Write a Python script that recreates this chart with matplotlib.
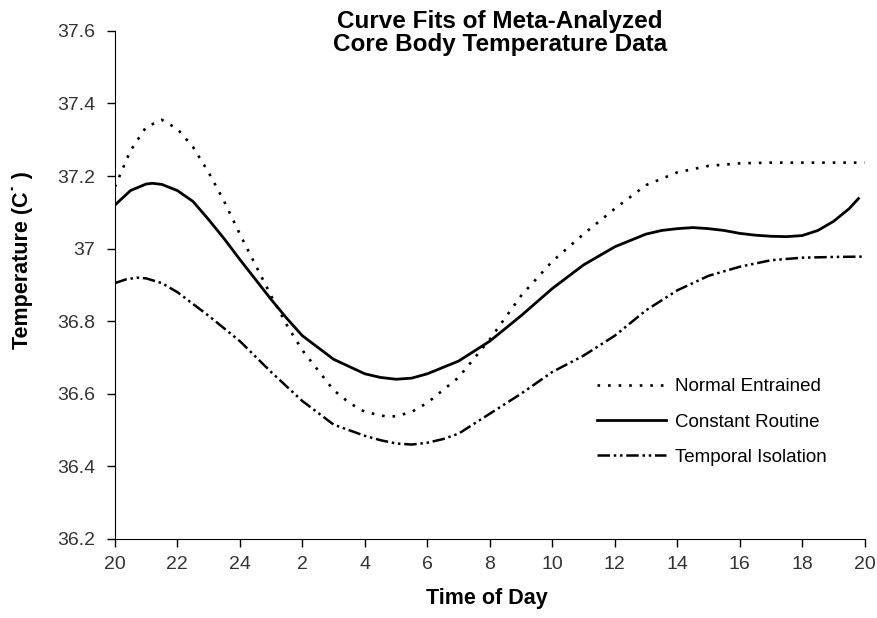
import matplotlib
matplotlib.use("Agg")
import matplotlib.pyplot as plt

plt.rcParams['font.family'] = ['Liberation Sans', 'DejaVu Sans']

# hours since 20:00, tick every 2 h
etiquetas = ['20', '22', '24', '2', '4', '6', '8', '10', '12', '14', '16', '18', '20']

# Normal Entrained (puntos)
t_normal = [0, 0.25, 0.5, 1, 1.5, 2, 2.5, 3, 3.5, 4, 4.5, 5, 5.5, 6, 7, 7.5, 8, 8.7, 9, 9.5, 10, 11, 12, 13, 14,
            15, 16, 17, 18, 19, 20, 21, 22, 23, 24]
normal = [37.17, 37.22, 37.27, 37.335, 37.355, 37.33, 37.28, 37.21, 37.13, 37.04, 36.955, 36.87, 36.79, 36.72,
          36.61, 36.575, 36.55, 36.537, 36.538, 36.55, 36.575, 36.645, 36.75, 36.87, 36.965, 37.04, 37.11, 37.175,
          37.21, 37.228, 37.235, 37.237, 37.237, 37.237, 37.237]

# Constant Routine (linea solida)
t_constante = [0, 0.5, 1, 1.2, 1.5, 2, 2.5, 3, 3.5, 4, 4.5, 5, 5.5, 6, 7, 8, 8.5, 9, 9.5, 10, 11, 12, 13, 14, 15,
               16, 17, 17.5, 18, 18.5, 19, 19.5, 20, 20.5, 21, 21.5, 22, 22.5, 23, 23.5, 23.8]
constante = [37.12, 37.16, 37.178, 37.18, 37.177, 37.16, 37.13, 37.08, 37.027, 36.97, 36.915, 36.86, 36.808,
             36.76, 36.695, 36.655, 36.645, 36.64, 36.643, 36.655, 36.69, 36.745, 36.815, 36.89, 36.955, 37.005,
             37.04, 37.05, 37.055, 37.058, 37.055, 37.05, 37.042, 37.037, 37.034, 37.033, 37.036, 37.05, 37.075,
             37.11, 37.138]

# Temporal Isolation (raya-punto)
t_aislamiento = [0, 0.35, 0.7, 1, 1.5, 2, 3, 4, 5, 6, 7, 8, 8.5, 9, 9.5, 10, 10.5, 11, 12, 13, 14, 15, 16, 17,
                 18, 19, 20, 21, 22, 23, 24]
aislamiento = [36.905, 36.915, 36.92, 36.918, 36.905, 36.88, 36.815, 36.745, 36.66, 36.58, 36.515, 36.484,
               36.472, 36.463, 36.46, 36.465, 36.475, 36.49, 36.545, 36.6, 36.66, 36.705, 36.76, 36.83, 36.885,
               36.925, 36.95, 36.968, 36.975, 36.977, 36.978]

fig = plt.figure(figsize=(8.77, 6.18), dpi=100)
ax = fig.add_axes([0.131, 0.128, 0.855, 0.822])

ax.plot(t_normal, normal, color='black', lw=1.9, linestyle=(0, (1, 3.0)), label='Normal Entrained')
ax.plot(t_constante, constante, color='black', lw=2.0, solid_joinstyle='round', label='Constant Routine')
ax.plot(t_aislamiento, aislamiento, color='black', lw=1.8, linestyle=(0, (5, 1.5, 1, 1.5, 1, 1.5)),
        label='Temporal Isolation')

ax.set_xlim(0, 24)
ax.set_ylim(36.2, 37.6)
ax.set_xticks(range(0, 25, 2))
ax.set_xticklabels(etiquetas)
ax.set_yticks([36.2, 36.4, 36.6, 36.8, 37.0, 37.2, 37.4, 37.6])
ax.set_yticklabels(['36.2', '36.4', '36.6', '36.8', '37', '37.2', '37.4', '37.6'])
ax.tick_params(direction='out', length=6, width=1, labelsize=14, colors='black', labelcolor='#333333')
ax.tick_params(axis='y', pad=8)
ax.tick_params(axis='x', pad=6)
ax.spines['top'].set_visible(False)
ax.spines['right'].set_visible(False)

fig.text(0.57, 0.947, 'Curve Fits of Meta-Analyzed\nCore Body Temperature Data', ha='center', va='center',
         fontsize=17.5, fontweight='bold', linespacing=1.0)
fig.text(0.026, 0.579, 'Temperature (C\u02d9 )', rotation=90, ha='center', va='center', fontsize=15.5,
         fontweight='bold')
fig.text(0.555, 0.032, 'Time of Day', ha='center', va='center', fontsize=15.5, fontweight='bold')

ax.legend(loc='center left', bbox_to_anchor=(0.643, 0.23), frameon=False, fontsize=13.5, handlelength=3.7,
          handletextpad=0.45, labelspacing=0.97, borderpad=0, borderaxespad=0)

plt.savefig("out.png", dpi=100)
